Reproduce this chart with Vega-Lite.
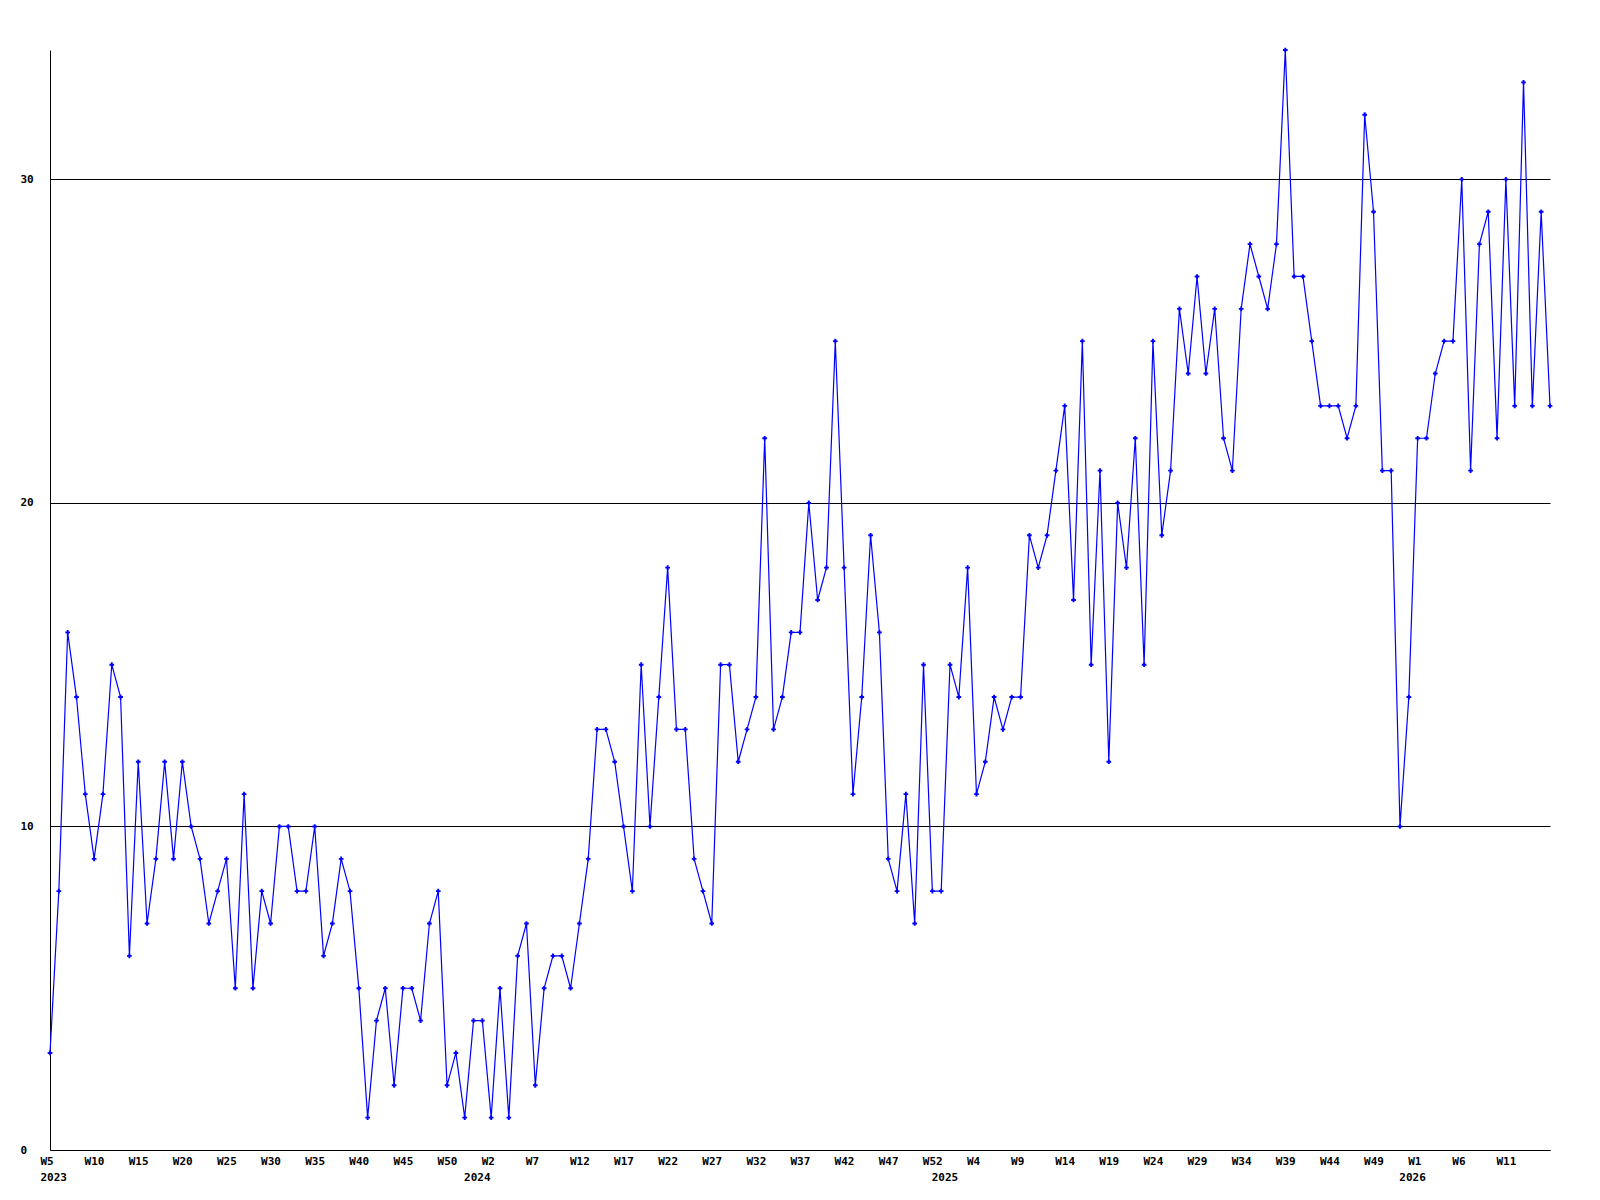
{
  "$schema": "https://vega.github.io/schema/vega-lite/v6.json",
  "width": 1500,
  "height": 1100,
  "autosize": {"type": "none"},
  "padding": {"left": 50, "top": 50, "right": 50, "bottom": 50},
  "background": "white",
  "config": {"view": {"stroke": null}},
  "data": {"values": [
    {"k":"2023-05","v":3},{"k":"2023-06","v":8},{"k":"2023-07","v":16},{"k":"2023-08","v":14},{"k":"2023-09","v":11},
    {"k":"2023-10","v":9},{"k":"2023-11","v":11},{"k":"2023-12","v":15},{"k":"2023-13","v":14},{"k":"2023-14","v":6},
    {"k":"2023-15","v":12},{"k":"2023-16","v":7},{"k":"2023-17","v":9},{"k":"2023-18","v":12},{"k":"2023-19","v":9},
    {"k":"2023-20","v":12},{"k":"2023-21","v":10},{"k":"2023-22","v":9},{"k":"2023-23","v":7},{"k":"2023-24","v":8},
    {"k":"2023-25","v":9},{"k":"2023-26","v":5},{"k":"2023-27","v":11},{"k":"2023-28","v":5},{"k":"2023-29","v":8},
    {"k":"2023-30","v":7},{"k":"2023-31","v":10},{"k":"2023-32","v":10},{"k":"2023-33","v":8},{"k":"2023-34","v":8},
    {"k":"2023-35","v":10},{"k":"2023-36","v":6},{"k":"2023-37","v":7},{"k":"2023-38","v":9},{"k":"2023-39","v":8},
    {"k":"2023-40","v":5},{"k":"2023-41","v":1},{"k":"2023-42","v":4},{"k":"2023-43","v":5},{"k":"2023-44","v":2},
    {"k":"2023-45","v":5},{"k":"2023-46","v":5},{"k":"2023-47","v":4},{"k":"2023-48","v":7},{"k":"2023-49","v":8},
    {"k":"2023-50","v":2},{"k":"2023-51","v":3},{"k":"2023-52","v":1},
    {"k":"2024-00","v":4},
    {"k":"2024-01","v":4},{"k":"2024-02","v":1},{"k":"2024-03","v":5},{"k":"2024-04","v":1},{"k":"2024-05","v":6},
    {"k":"2024-06","v":7},{"k":"2024-07","v":2},{"k":"2024-08","v":5},{"k":"2024-09","v":6},{"k":"2024-10","v":6},
    {"k":"2024-11","v":5},{"k":"2024-12","v":7},{"k":"2024-13","v":9},{"k":"2024-14","v":13},{"k":"2024-15","v":13},
    {"k":"2024-16","v":12},{"k":"2024-17","v":10},{"k":"2024-18","v":8},{"k":"2024-19","v":15},{"k":"2024-20","v":10},
    {"k":"2024-21","v":14},{"k":"2024-22","v":18},{"k":"2024-23","v":13},{"k":"2024-24","v":13},{"k":"2024-25","v":9},
    {"k":"2024-26","v":8},{"k":"2024-27","v":7},{"k":"2024-28","v":15},{"k":"2024-29","v":15},{"k":"2024-30","v":12},
    {"k":"2024-31","v":13},{"k":"2024-32","v":14},{"k":"2024-33","v":22},{"k":"2024-34","v":13},{"k":"2024-35","v":14},
    {"k":"2024-36","v":16},{"k":"2024-37","v":16},{"k":"2024-38","v":20},{"k":"2024-39","v":17},{"k":"2024-40","v":18},
    {"k":"2024-41","v":25},{"k":"2024-42","v":18},{"k":"2024-43","v":11},{"k":"2024-44","v":14},{"k":"2024-45","v":19},
    {"k":"2024-46","v":16},{"k":"2024-47","v":9},{"k":"2024-48","v":8},{"k":"2024-49","v":11},{"k":"2024-50","v":7},
    {"k":"2024-51","v":15},{"k":"2024-52","v":8},
    {"k":"2025-00","v":8},
    {"k":"2025-01","v":15},{"k":"2025-02","v":14},{"k":"2025-03","v":18},{"k":"2025-04","v":11},{"k":"2025-05","v":12},
    {"k":"2025-06","v":14},{"k":"2025-07","v":13},{"k":"2025-08","v":14},{"k":"2025-09","v":14},{"k":"2025-10","v":19},
    {"k":"2025-11","v":18},{"k":"2025-12","v":19},{"k":"2025-13","v":21},{"k":"2025-14","v":23},{"k":"2025-15","v":17},
    {"k":"2025-16","v":25},{"k":"2025-17","v":15},{"k":"2025-18","v":21},{"k":"2025-19","v":12},{"k":"2025-20","v":20},
    {"k":"2025-21","v":18},{"k":"2025-22","v":22},{"k":"2025-23","v":15},{"k":"2025-24","v":25},{"k":"2025-25","v":19},
    {"k":"2025-26","v":21},{"k":"2025-27","v":26},{"k":"2025-28","v":24},{"k":"2025-29","v":27},{"k":"2025-30","v":24},
    {"k":"2025-31","v":26},{"k":"2025-32","v":22},{"k":"2025-33","v":21},{"k":"2025-34","v":26},{"k":"2025-35","v":28},
    {"k":"2025-36","v":27},{"k":"2025-37","v":26},{"k":"2025-38","v":28},{"k":"2025-39","v":34},{"k":"2025-40","v":27},
    {"k":"2025-41","v":27},{"k":"2025-42","v":25},{"k":"2025-43","v":23},{"k":"2025-44","v":23},{"k":"2025-45","v":23},
    {"k":"2025-46","v":22},{"k":"2025-47","v":23},{"k":"2025-48","v":32},{"k":"2025-49","v":29},{"k":"2025-50","v":21},
    {"k":"2025-51","v":21},{"k":"2025-52","v":10},
    {"k":"2026-00","v":14},
    {"k":"2026-01","v":22},{"k":"2026-02","v":22},{"k":"2026-03","v":24},{"k":"2026-04","v":25},{"k":"2026-05","v":25},
    {"k":"2026-06","v":30},{"k":"2026-07","v":21},{"k":"2026-08","v":28},{"k":"2026-09","v":29},{"k":"2026-10","v":22},
    {"k":"2026-11","v":30},{"k":"2026-12","v":23},{"k":"2026-13","v":33},{"k":"2026-14","v":23},{"k":"2026-15","v":29},
    {"k":"2026-16","v":23}
  ]},
  "mark": {"type": "line", "color": "#0000ff", "strokeWidth": 1.2, "point": {"shape": "cross", "size": 22, "filled": true, "color": "#0000ff"}},
  "encoding": {
    "x": {
      "field": "k", "type": "ordinal",
      "scale": {"type": "point", "padding": 0},
      "axis": {
        "title": null,
        "values": ["2023-05","2023-10","2023-15","2023-20","2023-25","2023-30","2023-35","2023-40","2023-45","2023-50",
                   "2024-00","2024-02","2024-07","2024-12","2024-17","2024-22","2024-27","2024-32","2024-37","2024-42","2024-47","2024-52",
                   "2025-00","2025-04","2025-09","2025-14","2025-19","2025-24","2025-29","2025-34","2025-39","2025-44","2025-49",
                   "2026-00","2026-01","2026-06","2026-11"],
        "labelExpr": "substring(datum.value,5)=='00' ? ['', substring(datum.value,0,4)] : (datum.value=='2023-05' ? ['W5','2023'] : 'W' + toNumber(substring(datum.value,5)))",
        "labelAngle": 0,
        "labelAlign": "left",
        "labelBaseline": "top",
        "labelOffset": -10,
        "labelPadding": 5,
        "labelLineHeight": 16,
        "labelOverlap": false,
        "labelBound": false,
        "labelFlush": false,
        "ticks": false,
        "tickSize": 0,
        "grid": false,
        "domainColor": "#000000",
        "domainWidth": 1,
        "labelFont": "DejaVu Sans Mono",
        "labelFontWeight": "bold",
        "labelFontSize": 11,
        "labelColor": "#000000"
      }
    },
    "y": {
      "field": "v", "type": "quantitative",
      "scale": {"domain": [0, 34], "nice": false, "zero": true},
      "axis": {
        "title": null,
        "values": [0, 10, 20, 30],
        "grid": true,
        "gridColor": "#000000",
        "gridOpacity": 1,
        "gridWidth": 1,
        "ticks": false,
        "tickSize": 0,
        "labelAlign": "left",
        "labelBaseline": "middle",
        "labelPadding": 30,
        "domainColor": "#000000",
        "domainWidth": 1,
        "labelFont": "DejaVu Sans Mono",
        "labelFontWeight": "bold",
        "labelFontSize": 11,
        "labelColor": "#000000"
      }
    }
  }
}
